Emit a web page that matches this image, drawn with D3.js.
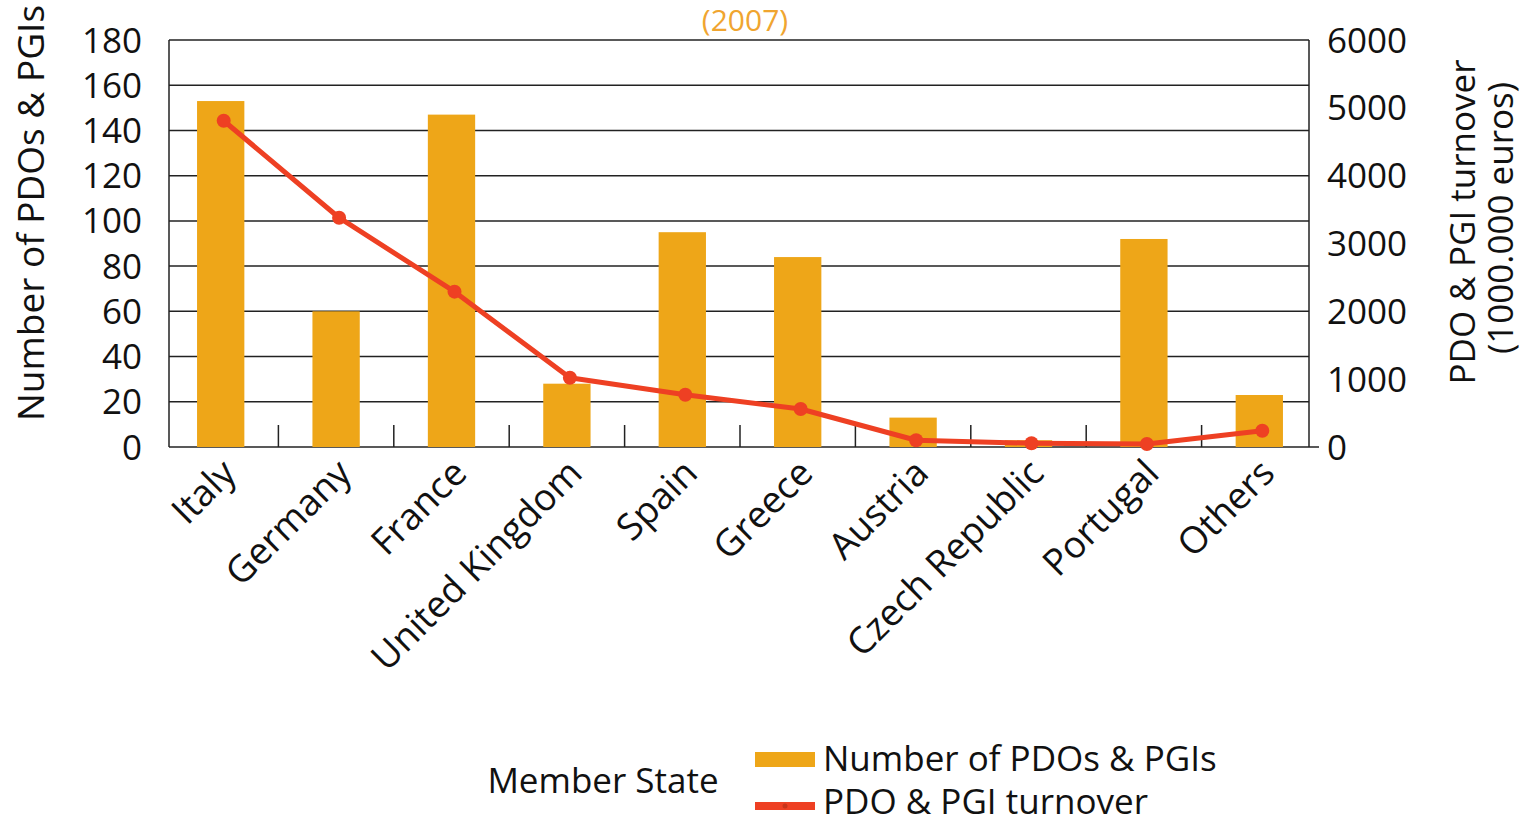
<!DOCTYPE html>
<html><head><meta charset="utf-8">
<script src="https://cdn.jsdelivr.net/npm/d3@7"></script>
<style>body{margin:0;background:#fff}svg{display:block}text{font-family:"Open Sans",sans-serif;fill:#111}</style>
</head><body>
<svg id="c" width="1532" height="825"></svg>
<script>
const categories = ["Italy","Germany","France","United Kingdom","Spain","Greece","Austria","Czech Republic","Portugal","Others"];
const pdoCounts = [153, 60, 147, 28, 95, 84, 13, 3, 92, 23];
const turnover = [4810, 3380, 2290, 1020, 770, 560, 100, 55, 45, 240];
const leftTicks = [0,20,40,60,80,100,120,140,160,180];
const rightTicks = [0,1000,2000,3000,4000,5000,6000];

const svg = d3.select("#c");
const L = 169, R = 1309, T = 40, B = 447;
const barColor = "#EEA618", lineColor = "#EE4023";
const FS = 35;

const x = d3.scaleBand().domain(categories).range([163, 1317]).paddingInner(0.59).paddingOuter(0.295);
const yL = d3.scaleLinear().domain([0,180]).range([B,T]);
const yR = d3.scaleLinear().domain([0,6000]).range([B,T]);

// gridlines
svg.append("g").selectAll("line").data(leftTicks).join("line")
  .attr("x1",L).attr("x2",R).attr("y1",d=>yL(d)).attr("y2",d=>yL(d))
  .attr("stroke","#222").attr("stroke-width",1.5);
// frame sides
svg.append("line").attr("x1",L).attr("x2",L).attr("y1",T).attr("y2",B).attr("stroke","#222").attr("stroke-width",1.5);
svg.append("line").attr("x1",R).attr("x2",R).attr("y1",T).attr("y2",B).attr("stroke","#222").attr("stroke-width",1.5);
svg.append("line").attr("x1",R).attr("x2",R+10).attr("y1",B).attr("y2",B).attr("stroke","#222").attr("stroke-width",1.5);

// bars
svg.append("g").selectAll("rect").data(categories).join("rect")
  .attr("x",d=>x(d)).attr("width",x.bandwidth())
  .attr("y",(d,i)=>yL(pdoCounts[i])).attr("height",(d,i)=>B-yL(pdoCounts[i]))
  .attr("fill",barColor);

// category ticks between bands (pointing up)
const step = x.step();
svg.append("g").selectAll("line").data(categories.slice(1)).join("line")
  .attr("x1",d=>x(d)+x.bandwidth()/2-step/2).attr("x2",d=>x(d)+x.bandwidth()/2-step/2)
  .attr("y1",B).attr("y2",B-22).attr("stroke","#222").attr("stroke-width",1.5);

// left axis labels
svg.append("g").selectAll("text").data(leftTicks).join("text")
  .attr("x",142).attr("y",d=>yL(d)).attr("dy","0.36em").attr("text-anchor","end")
  .attr("font-size",FS).text(d=>d);
// right axis labels
svg.append("g").selectAll("text").data(rightTicks).join("text")
  .attr("x",1327).attr("y",d=>yR(d)).attr("dy","0.36em").attr("text-anchor","start")
  .attr("font-size",FS).text(d=>d);

// line
const cx = (d)=>x(d)+x.bandwidth()/2+3;
const line = d3.line().x(d=>cx(d.c)).y(d=>yR(d.v));
const pts = categories.map((c,i)=>({c, v: turnover[i]}));
svg.append("path").datum(pts).attr("d",line).attr("fill","none")
  .attr("stroke",lineColor).attr("stroke-width",5).attr("stroke-linejoin","round");
svg.append("g").selectAll("circle").data(pts).join("circle")
  .attr("cx",d=>cx(d.c)).attr("cy",d=>yR(d.v)).attr("r",7).attr("fill",lineColor);

// category labels rotated
svg.append("g").selectAll("text").data(categories).join("text")
  .attr("transform",d=>`translate(${x(d)+x.bandwidth()/2-1},${B+10}) rotate(-45)`)
  .attr("text-anchor","end").attr("dy","0.7em").attr("font-size",37).text(d=>d);

// title
svg.append("text").attr("x",745).attr("y",31).attr("text-anchor","middle")
  .attr("font-size",30).style("fill","#F0A530").text("(2007)");

// axis titles
svg.append("text").attr("transform","translate(44,213) rotate(-90)").attr("text-anchor","middle")
  .attr("font-size",37).text("Number of PDOs & PGIs");
svg.append("text").attr("transform","translate(1475,222) rotate(-90)").attr("text-anchor","middle")
  .attr("font-size",FS).text("PDO & PGI turnover");
svg.append("text").attr("transform","translate(1513,218) rotate(-90)").attr("text-anchor","middle")
  .attr("font-size",FS).text("(1000.000 euros)");

// legend
svg.append("text").attr("x",603).attr("y",793).attr("text-anchor","middle").attr("font-size",FS).text("Member State");
svg.append("rect").attr("x",755).attr("y",752).attr("width",60).attr("height",15).attr("fill",barColor);
svg.append("text").attr("x",823).attr("y",771).attr("font-size",FS).text("Number of PDOs & PGIs");
svg.append("line").attr("x1",755).attr("x2",815).attr("y1",806).attr("y2",806).attr("stroke",lineColor).attr("stroke-width",8);
svg.append("circle").attr("cx",785).attr("cy",806).attr("r",2.5).attr("fill","#c8341a");
svg.append("text").attr("x",823).attr("y",814).attr("font-size",FS).text("PDO & PGI turnover");
</script>
</body></html>
